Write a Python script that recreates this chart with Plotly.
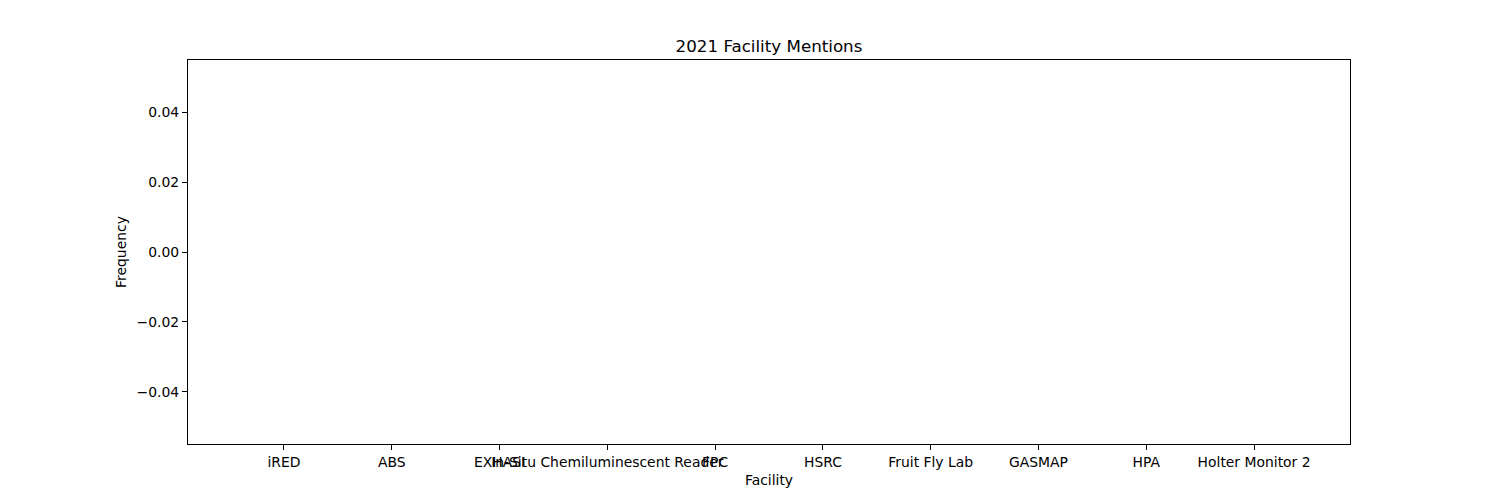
import plotly.graph_objects as go

facilities = ["iRED", "ABS", "EXHASI", "In-Situ Chemiluminescent Reader", "FPC",
              "HSRC", "Fruit Fly Lab", "GASMAP", "HPA", "Holter Monitor 2"]
frequency = [0, 0, 0, 0, 0, 0, 0, 0, 0, 0]
y_tick_vals = [-0.04, -0.02, 0.0, 0.02, 0.04]
y_tick_text = ["\u22120.04", "\u22120.02", "0.00", "0.02", "0.04"]

font = "DejaVu Sans"

fig = go.Figure()
fig.add_trace(go.Bar(
    x=list(range(len(facilities))), y=frequency, width=0.8,
    marker=dict(color="#1f77b4", line=dict(width=0)),
    showlegend=False,
))

fig.update_layout(
    width=1500, height=500,
    margin=dict(l=188, r=150, t=60, b=56),
    paper_bgcolor="white", plot_bgcolor="white",
    font=dict(family=font, size=13.9, color="black"),
    title=dict(text="2021 Facility Mentions", x=(188 + 1350) / 2 / 1500, xanchor="center",
               y=1 - 46 / 500, yanchor="middle", font=dict(size=16.7, family=font, color="black")),
    bargap=0,
)
fig.update_xaxes(
    range=[-0.89, 9.89],
    tickmode="array", tickvals=list(range(len(facilities))), ticktext=facilities,
    tickangle=0, ticks="outside", ticklen=5, tickwidth=1.1, tickcolor="black",
    showline=True, linecolor="black", linewidth=1.1, mirror=True,
    showgrid=False, zeroline=False,
    title=dict(text="Facility", standoff=6, font=dict(size=13.9, family=font)),
    automargin=False,
)
fig.update_yaxes(
    range=[-0.055, 0.055],
    tickmode="array", tickvals=y_tick_vals, ticktext=y_tick_text,
    ticks="outside", ticklen=5, tickwidth=1.1, tickcolor="black",
    showline=True, linecolor="black", linewidth=1.1, mirror=True,
    showgrid=False, zeroline=False,
    title=dict(text="Frequency", standoff=6, font=dict(size=13.9, family=font)),
    automargin=False,
)

fig.write_html("out.html")
